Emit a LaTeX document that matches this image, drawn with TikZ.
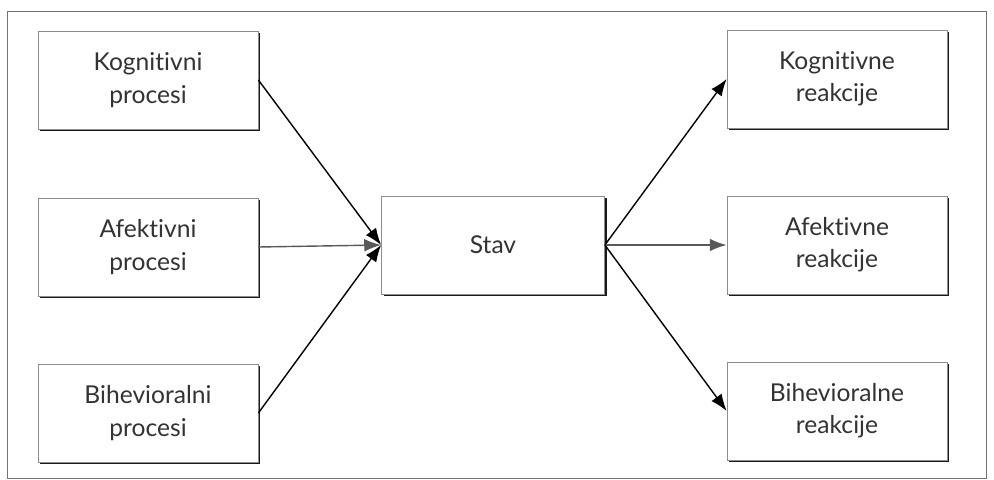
\documentclass[tikz,border=0pt]{standalone}
\usepackage{fontspec}
\setmainfont{Lato}[Ligatures={NoCommon,NoDiscretionary}]
\usetikzlibrary{arrows.meta,shadows}
\begin{document}
\begin{tikzpicture}[x=0.025cm, y=-0.025cm,
    okvir/.style={draw=black!55, line width=0.5pt},
    kutija/.style={draw=black!45, line width=0.5pt, fill=white, align=center,
        minimum width=5.5cm, minimum height=2.45cm, inner sep=0pt,
        text=black!80, font=\fontsize{17.5}{23}\selectfont,
        drop shadow={shadow xshift=1.6pt, shadow yshift=-1.6pt, fill=black!90, opacity=1}},
    strelica/.style={-{Latex[length=12pt, width=9pt]}, line width=1pt, black},
    sivastrelica/.style={strelica, black!65}]
    \useasboundingbox (0,0) rectangle (994,480);
    \draw[okvir] (7,11) rectangle (986,478);

    % procesi
    \node[kutija] (kogp) at (148,80) {Kognitivni\\procesi};
    \node[kutija] (afep) at (148,247) {Afektivni\\procesi};
    \node[kutija] (bihp) at (148,413) {Bihevioralni\\procesi};

    % stav
    \node[kutija, minimum width=5.575cm] (stav) at (493,245) {Stav};

    % reakcije
    \node[kutija] (kogr) at (837,79) {Kognitivne\\reakcije};
    \node[kutija] (afer) at (837,245) {Afektivne\\reakcije};
    \node[kutija] (bihr) at (837,411) {Bihevioralne\\reakcije};

    \draw[strelica] (kogp.east) -- (stav.west);
    \draw[sivastrelica] (afep.east) -- (stav.west);
    \draw[strelica] (bihp.east) -- (stav.west);

    \draw[strelica] (stav.east) -- (kogr.west);
    \draw[sivastrelica] (stav.east) -- (afer.west);
    \draw[strelica] (stav.east) -- (bihr.west);
\end{tikzpicture}
\end{document}
